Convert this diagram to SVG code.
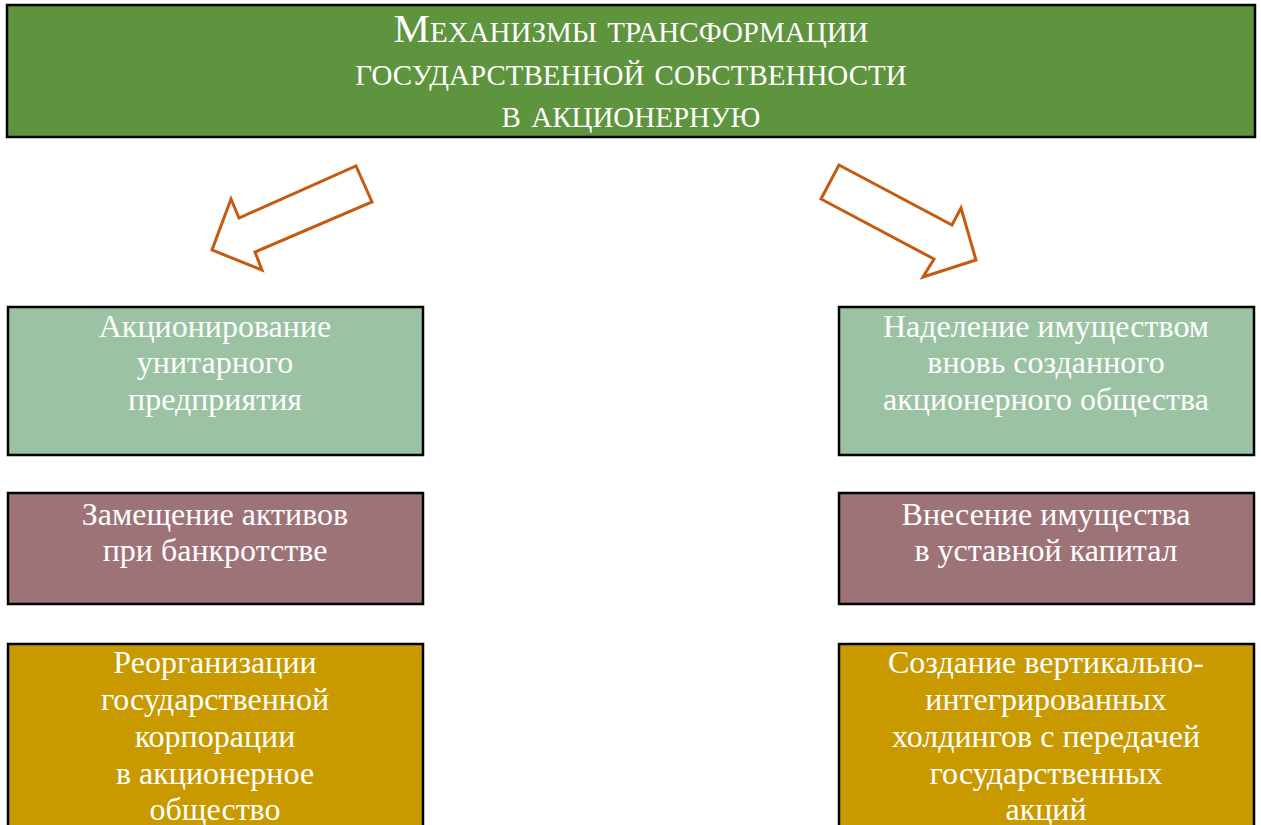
<svg xmlns="http://www.w3.org/2000/svg" width="1261" height="825" viewBox="0 0 1261 825">
<style>
.box{stroke:#000;stroke-width:2.5}
.t{font-family:"Liberation Serif","Times New Roman",serif;fill:#ffffff;text-anchor:middle;font-size:32px}
.title{font-family:"Liberation Serif","Times New Roman",serif;fill:#ffffff;text-anchor:middle;font-size:41px;font-variant:small-caps}
.arr{fill:#ffffff;stroke:#c55a11;stroke-width:3;stroke-linejoin:miter}
</style>
<rect width="1261" height="825" fill="#ffffff"/>
<g id="title">
<rect class="box" x="7" y="5" width="1248" height="132" fill="#5f943e"/>
<text class="title" x="631" y="42">Механизмы трансформации</text>
<text class="title" x="631" y="84.5">государственной собственности</text>
<text class="title" x="631" y="127">в акционерную</text>
</g>
<g id="connectors">
<polygon class="arr" points="356,166 372,202 255,252 262,270 212,250 231,199 239,218"/>
<polygon class="arr" points="839,165 952,225 961,208 976,260 923,277 934,259 821,199"/>
</g>
<g id="n1">
<rect class="box" x="8" y="307" width="415" height="148" fill="#9bc2a3"/>
<text class="t" x="215" y="337">Акционирование</text>
<text class="t" x="215" y="373">унитарного</text>
<text class="t" x="215" y="410">предприятия</text>
</g>
<g id="n2">
<rect class="box" x="839" y="307" width="415" height="148" fill="#9bc2a3"/>
<text class="t" x="1046" y="337">Наделение имуществом</text>
<text class="t" x="1046" y="373">вновь созданного</text>
<text class="t" x="1046" y="410">акционерного общества</text>
</g>
<g id="n3">
<rect class="box" x="8" y="493" width="415" height="111" fill="#9e7378"/>
<text class="t" x="215" y="525">Замещение активов</text>
<text class="t" x="215" y="561">при банкротстве</text>
</g>
<g id="n4">
<rect class="box" x="839" y="493" width="415" height="111" fill="#9e7378"/>
<text class="t" x="1046" y="525">Внесение имущества</text>
<text class="t" x="1046" y="561">в уставной капитал</text>
</g>
<g id="n5">
<rect class="box" x="8" y="644" width="415" height="190" fill="#c89a00"/>
<text class="t" x="215" y="673">Реорганизации</text>
<text class="t" x="215" y="710">государственной</text>
<text class="t" x="215" y="747">корпорации</text>
<text class="t" x="215" y="784">в акционерное</text>
<text class="t" x="215" y="820">общество</text>
</g>
<g id="n6">
<rect class="box" x="839" y="644" width="415" height="190" fill="#c89a00"/>
<text class="t" x="1046" y="673">Создание вертикально-</text>
<text class="t" x="1046" y="710">интегрированных</text>
<text class="t" x="1046" y="747">холдингов с передачей</text>
<text class="t" x="1046" y="784">государственных</text>
<text class="t" x="1046" y="820">акций</text>
</g>
</svg>
